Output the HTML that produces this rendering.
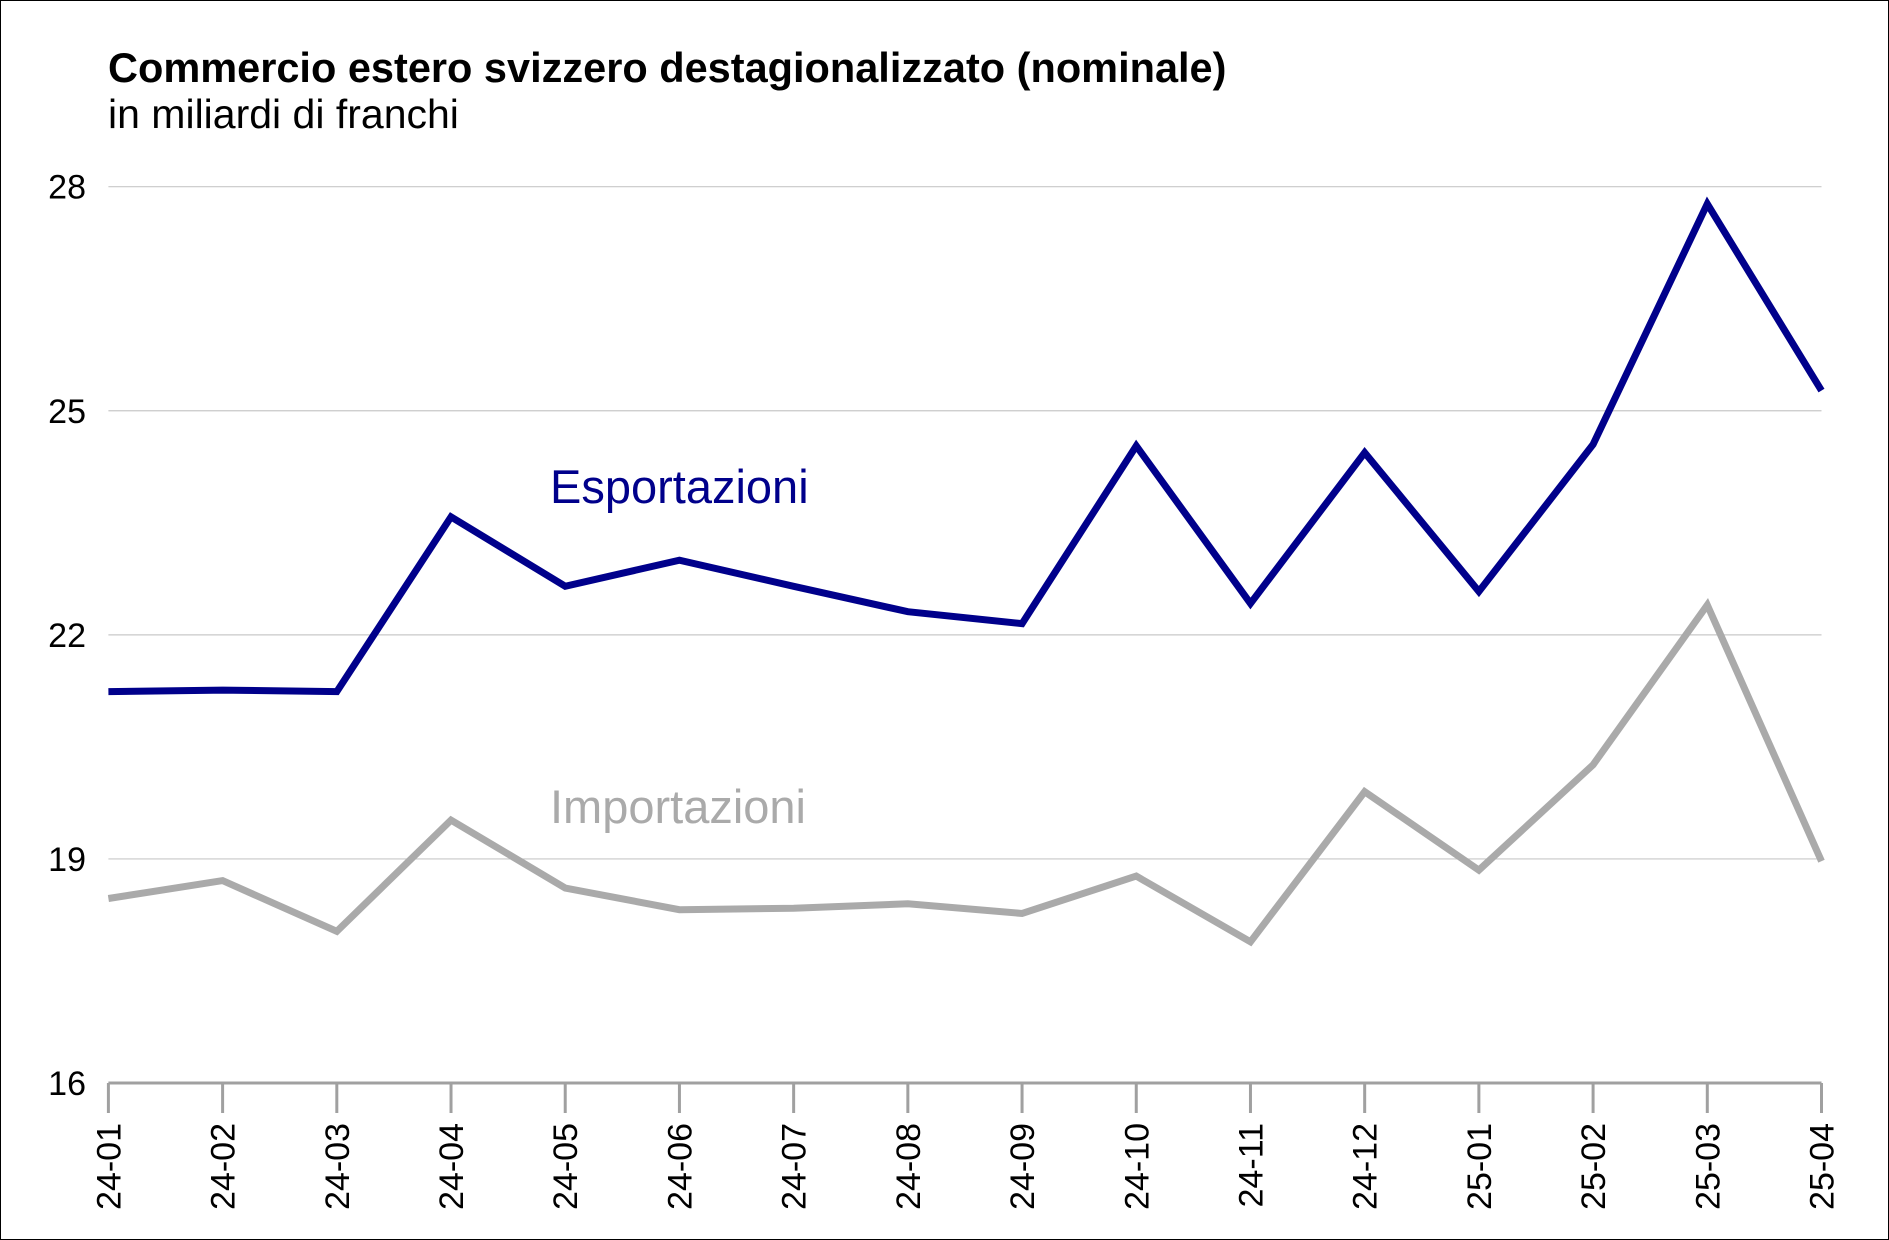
<!DOCTYPE html>
<html><head><meta charset="utf-8"><style>
body{margin:0;background:#fff}
svg{display:block;font-family:"Liberation Sans",Arial,sans-serif}
</style></head><body>
<svg id="chart" width="1889" height="1240" viewBox="0 0 1889 1240">
<rect x="0.5" y="0.5" width="1888" height="1239" fill="#fff" stroke="#000" stroke-width="1"/>
<text x="108" y="82" font-size="41.5" font-weight="bold" fill="#000">Commercio estero svizzero destagionalizzato (nominale)</text>
<text x="108" y="128" font-size="41" fill="#000">in miliardi di franchi</text>
<g id="grid"></g><g id="xaxis"></g><g id="lines"></g>
<text x="550" y="503" font-size="47" fill="#00008b">Esportazioni</text>
<text x="550" y="823" font-size="47" fill="#aaaaaa">Importazioni</text>
</svg>
<script>
const categories=["24-01","24-02","24-03","24-04","24-05","24-06","24-07","24-08","24-09","24-10","24-11","24-12","25-01","25-02","25-03","25-04"];
const exportsData=[21.24,21.26,21.24,23.58,22.65,23.0,22.65,22.31,22.15,24.53,22.42,24.44,22.58,24.55,27.77,25.27];
const importsData=[18.47,18.71,18.03,19.52,18.61,18.32,18.34,18.40,18.27,18.77,17.89,19.90,18.85,20.26,22.40,18.97];
const yTicks=[16,19,22,25,28];
const NS="http://www.w3.org/2000/svg";
const x0=108.4,x1=1821.5,yTop=186.7,yBot=1083;
const xs=i=>x0+(x1-x0)*i/(categories.length-1);
const ys=v=>yBot-(v-16)/(28-16)*(yBot-yTop);
function mk(tag,attrs,parent){const e=document.createElementNS(NS,tag);for(const k in attrs)e.setAttribute(k,attrs[k]);parent.appendChild(e);return e;}
const grid=document.getElementById('grid'),xa=document.getElementById('xaxis'),lines=document.getElementById('lines');
yTicks.forEach(t=>{
  if(t!==16){const l=mk('line',{x1:x0,x2:x1,y1:ys(t),y2:ys(t),stroke:'#c8c8c8','stroke-width':1.2},grid);
  
  }
  const tx=mk('text',{x:86,y:ys(t)+12,'font-size':34,'text-anchor':'end',fill:'#000'},grid);
  tx.textContent=t;
  
  
});
const ax=mk('line',{x1:x0,x2:x1,y1:yBot,y2:yBot,stroke:'#a0a0a0','stroke-width':3},xa);


categories.forEach((c,i)=>{
  const tk=mk('line',{x1:xs(i),x2:xs(i),y1:yBot,y2:yBot+30,stroke:'#a0a0a0','stroke-width':3},xa);
  
  
  const t=mk('text',{x:0,y:0,'font-size':34,'text-anchor':'end',fill:'#000',transform:`translate(${xs(i)+12},${yBot+40}) rotate(-90)`},xa);
  t.textContent=c;
  
  
});
function series(data,color,name){
  const p=mk('polyline',{points:data.map((v,i)=>xs(i)+','+ys(v)).join(' '),fill:'none',stroke:color,'stroke-width':7,'stroke-linejoin':'miter'},lines);
  
  
}
series(importsData,'#aaaaaa','imports-line');
series(exportsData,'#00008b','exports-line');
</script>
</body></html>
